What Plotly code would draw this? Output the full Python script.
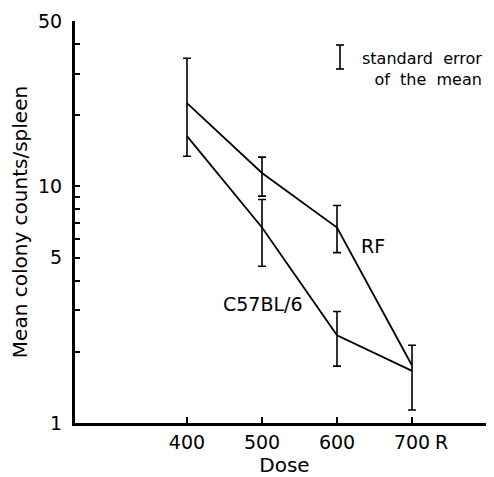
import plotly.graph_objects as go

dose = [400, 500, 600, 700]

rf_mean = [22.5, 11.4, 6.7, 1.75]
rf_hi = [34.8, 13.3, 8.3, None]
rf_lo = [13.4, 9.1, 5.25, None]

c57_mean = [16.3, 6.7, 2.35, 1.66]
c57_hi = [None, 8.8, 2.96, 2.13]
c57_lo = [None, 4.6, 1.74, 1.135]

y_tickvals = [1, 2, 3, 4, 5, 6, 7, 8, 9, 10, 20, 30, 40, 50]
y_ticktext = ["1", "", "", "", "5", "", "", "", "", "10", "", "", "", "50"]
x_tickvals = [400, 500, 600, 700]
x_ticktext = ["400", "500", "600", "700"]

fig = go.Figure()
for name, mean, hi, lo in [("RF", rf_mean, rf_hi, rf_lo), ("C57BL/6", c57_mean, c57_hi, c57_lo)]:
    fig.add_trace(go.Scatter(x=dose, y=mean, mode="lines", name=name,
                             line=dict(color="black", width=1.8), showlegend=False))
    xs, ys, pl, mi = [], [], [], []
    for d, m, h, l in zip(dose, mean, hi, lo):
        if h is None:
            continue
        xs.append(d); ys.append(m); pl.append(h - m); mi.append(m - l)
    fig.add_trace(go.Scatter(x=xs, y=ys, mode="markers", marker=dict(size=1, color="rgba(0,0,0,0)"),
                             showlegend=False,
                             error_y=dict(type="data", symmetric=False, array=pl, arrayminus=mi,
                                          color="black", thickness=1.6, width=4)))

font_main = "DejaVu Sans"
fig.add_annotation(x=648, y=0.75, xref="x", yref="y", text="RF", showarrow=False,
                   font=dict(family=font_main, size=19, color="black"))
fig.add_annotation(x=501, y=0.505, xref="x", yref="y", text="C57BL/6", showarrow=False,
                   font=dict(family=font_main, size=19, color="black"))

# note: standard error symbol
fig.add_annotation(x=(484 - 75) / 419, y=(423 - 69) / 402, xref="paper", yref="paper",
                   text="standard  error<br>of  the  mean", showarrow=False, align="right",
                   xanchor="right", yanchor="middle",
                   font=dict(family=font_main, size=16, color="black"))
sx = (340 - 75) / 419
yt, yb = (423 - 45) / 402, (423 - 69) / 402
cw = 4 / 419
for s in [dict(x0=sx, x1=sx, y0=yb, y1=yt), dict(x0=sx - cw, x1=sx + cw, y0=yt, y1=yt),
          dict(x0=sx - cw, x1=sx + cw, y0=yb, y1=yb)]:
    fig.add_shape(type="line", xref="paper", yref="paper", line=dict(color="black", width=1.6), **s)

fig.add_annotation(x=739, y=0, xref="x", yref="paper", yanchor="top", yshift=-6, text="R",
                   showarrow=False, font=dict(family=font_main, size=19, color="black"))

fig.update_layout(
    width=486, height=469,
    margin=dict(l=67, r=0, t=13, b=54, autoexpand=False),
    paper_bgcolor="white", plot_bgcolor="white",
    showlegend=False,
    xaxis=dict(range=[250.7, 809.3], tickvals=x_tickvals, ticktext=x_ticktext,
               ticks="inside", ticklen=6, tickwidth=1.5, tickcolor="black",
               showline=True, linecolor="black", linewidth=3, showgrid=False, zeroline=False,
               automargin=False,
               tickfont=dict(family=font_main, size=19, color="black"),
               title=dict(text="Dose", font=dict(family=font_main, size=20, color="black"), standoff=4)),
    yaxis=dict(type="log", range=[0, 1.699], tickvals=y_tickvals, ticktext=y_ticktext,
               ticks="inside", ticklen=5, tickwidth=1.5, tickcolor="black",
               showline=True, linecolor="black", linewidth=3, showgrid=False, zeroline=False,
               automargin=False, ticklabelstandoff=6,
               tickfont=dict(family=font_main, size=19, color="black"),
               title=dict(text="Mean colony counts/spleen",
                          font=dict(family=font_main, size=20, color="black"), standoff=8)),
)

fig.write_html("out.html")
